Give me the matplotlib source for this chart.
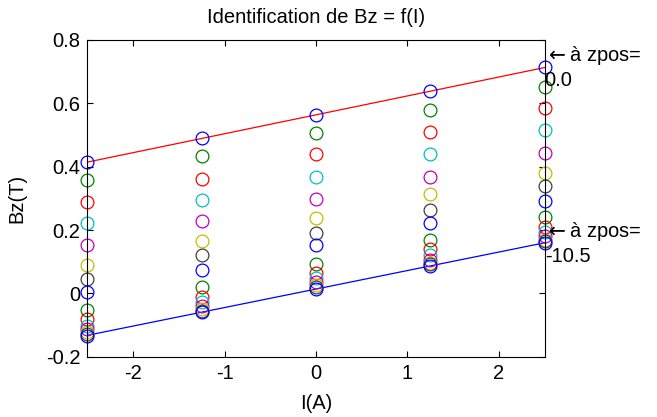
import numpy as np
import matplotlib
matplotlib.use('Agg')
import matplotlib.pyplot as plt

plt.rcParams['font.family'] = ['Liberation Sans', 'DejaVu Sans']

# Courant I (A)
current = [-2.5, -1.25, 0.0, 1.25, 2.5]

# Bz (T), one list per current value, from zpos=0.0 down to zpos=-10.5
bz_m250 = [0.414, 0.358, 0.287, 0.223, 0.152, 0.089, 0.046, 0.004, -0.052, -0.081, -0.101, -0.112, -0.122, -0.128, -0.133]
bz_m125 = [0.490, 0.434, 0.362, 0.294, 0.228, 0.166, 0.120, 0.075, 0.020, -0.012, -0.027, -0.038, -0.048, -0.054, -0.057]
bz_000 = [0.561, 0.505, 0.439, 0.367, 0.297, 0.238, 0.191, 0.152, 0.092, 0.064, 0.050, 0.036, 0.027, 0.020, 0.013]
bz_p125 = [0.637, 0.579, 0.510, 0.440, 0.368, 0.312, 0.263, 0.223, 0.168, 0.141, 0.120, 0.104, 0.096, 0.092, 0.088]
bz_p250 = [0.713, 0.651, 0.584, 0.516, 0.444, 0.381, 0.339, 0.292, 0.240, 0.210, 0.194, 0.181, 0.170, 0.165, 0.159]

zpos_labels = ['0.0', '-10.5']

# MATLAB style colour order
colors = [(0, 0, 1), (0, 0.5, 0), (1, 0, 0), (0, 0.75, 0.75),
          (0.75, 0, 0.75), (0.75, 0.75, 0), (0.25, 0.25, 0.25)]

bz = np.array([bz_m250, bz_m125, bz_000, bz_p125, bz_p250]).T  # (series, current)
I = np.array(current)

fs = 14.5

fig = plt.figure(figsize=(6.57, 4.17), dpi=100)
ax = fig.add_axes([0.133, 0.144, 0.696, 0.761])

# fitted lines for the first and last positions
p_top = np.polyfit(I, bz[0], 1)
p_bot = np.polyfit(I, bz[-1], 1)
ax.plot(I, np.polyval(p_top, I), color=(1, 0, 0), lw=0.9)
ax.plot(I, np.polyval(p_bot, I), color=(0, 0, 1), lw=0.9)

for k in range(bz.shape[0]):
    ax.plot(I, bz[k], 'o', mfc='none', mec=colors[k % len(colors)],
            ms=9.2, mew=0.9, clip_on=False)

for row, lab in [(0, zpos_labels[0]), (-1, zpos_labels[1])]:
    ax.text(I[-1], bz[row][-1], r'$\leftarrow$à zpos=' + '\n' + lab,
            ha='left', va='center', fontsize=fs, linespacing=1.25)

ax.set_xlim(-2.5, 2.5)
ax.set_ylim(-0.2, 0.8)
ax.set_xticks([-2, -1, 0, 1, 2])
ax.set_xticklabels(['-2', '-1', '0', '1', '2'])
ax.set_yticks([-0.2, 0, 0.2, 0.4, 0.6, 0.8])
ax.set_yticklabels(['-0.2', '0', '0.2', '0.4', '0.6', '0.8'])
ax.tick_params(direction='in', length=4, width=0.8, top=True, right=True,
               labelsize=fs, pad=5)
for s in ax.spines.values():
    s.set_linewidth(0.8)

ax.set_title('Identification de Bz = f(I)', fontsize=fs, pad=12)
ax.set_xlabel('I(A)', fontsize=fs, labelpad=8)
ax.set_ylabel('Bz(T)', fontsize=fs, labelpad=14)

fig.savefig('out.png', dpi=100)
